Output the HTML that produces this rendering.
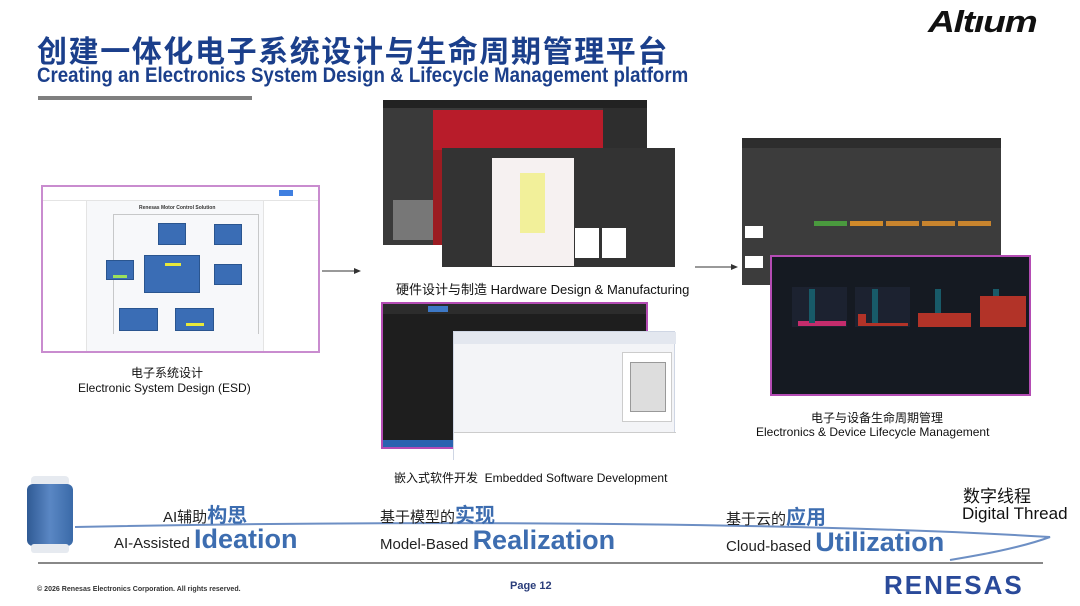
<!DOCTYPE html>
<html><head><meta charset="utf-8">
<style>
*{margin:0;padding:0;box-sizing:border-box}
body{width:1080px;height:606px;background:#fff;position:relative;overflow:hidden;font-family:"Liberation Sans","Noto Sans CJK SC",sans-serif}
.a{position:absolute}
.t{white-space:nowrap}
.blue{background:#3a6db5;border:1px solid #2a558f}
.dk{background:#2b2b2b}
</style></head><body>

<div class="a t" style="left:37px;top:27px;font-size:30px;font-weight:bold;color:#1b3f8b;letter-spacing:1.6px">创建一体化电子系统设计与生命周期管理平台</div>
<div class="a t" style="left:37px;top:64px;font-size:21px;font-weight:bold;color:#1b3f8b;transform:scaleX(0.89);transform-origin:left">Creating an Electronics System Design &amp; Lifecycle Management platform</div>
<div class="a" style="left:38px;top:96px;width:214px;height:4px;background:#7f7f7f"></div>
<div class="a t" style="left:928px;top:4px;font-size:31px;font-weight:bold;font-style:italic;color:#111;letter-spacing:-1px;transform:scaleX(1.2);transform-origin:left">Altıum</div>

<!-- ESD -->
<div class="a" style="left:41px;top:185px;width:279px;height:168px;border:2px solid #c98ccf;background:#f7f8fa">
  <div class="a" style="left:0;top:0;width:275px;height:14px;background:#fff;border-bottom:1px solid #e4e4e4"></div>
  <div class="a" style="left:236px;top:3px;width:14px;height:6px;background:#3f7fe0"></div>
  <div class="a" style="left:0;top:14px;width:44px;height:150px;background:#fff;border-right:1px solid #e4e4e4"></div>
  <div class="a" style="left:220px;top:14px;width:55px;height:150px;background:#fff;border-left:1px solid #e4e4e4"></div>
  <div class="a t" style="left:96px;top:18px;font-size:5px;font-weight:bold;color:#333">Renesas Motor Control Solution</div>
  <div class="a" style="left:70px;top:27px;width:146px;height:120px;border:1px solid #999;border-width:1px 1px 0 1px;opacity:.5"></div>
</div>
<div class="a blue" style="left:158px;top:223px;width:28px;height:22px"></div>
<div class="a blue" style="left:214px;top:224px;width:28px;height:21px"></div>
<div class="a blue" style="left:106px;top:260px;width:28px;height:20px"></div>
<div class="a blue" style="left:144px;top:255px;width:56px;height:38px"></div>
<div class="a" style="left:165px;top:263px;width:16px;height:3px;background:#e8e83a"></div>
<div class="a" style="left:113px;top:275px;width:14px;height:3px;background:#9be05a"></div>
<div class="a blue" style="left:214px;top:264px;width:28px;height:21px"></div>
<div class="a blue" style="left:119px;top:308px;width:39px;height:23px"></div>
<div class="a blue" style="left:175px;top:308px;width:39px;height:23px"></div>
<div class="a" style="left:186px;top:323px;width:18px;height:3px;background:#e8e83a"></div>
<div class="a t" style="left:131px;top:364px;font-size:12px;color:#111">电子系统设计</div>
<div class="a t" style="left:78px;top:381px;font-size:12px;color:#111">Electronic System Design (ESD)</div>

<svg class="a" style="left:0;top:0" width="1080" height="606">
<line x1="322" y1="271" x2="356" y2="271" stroke="#333" stroke-width="1"/>
<polygon points="361,271 354,268 354,274" fill="#333"/>
<line x1="695" y1="267" x2="733" y2="267" stroke="#333" stroke-width="1"/>
<polygon points="738,267 731,264 731,270" fill="#333"/>
<path d="M75,527 C400,520 800,522 1050,537 C1020,548 980,555 950,560" fill="none" stroke="#6d8fc4" stroke-width="2"/>
</svg>

<!-- hardware -->
<div class="a dk" style="left:383px;top:100px;width:264px;height:145px;background:#3a3a3a">
  <div class="a" style="left:50px;top:10px;width:170px;height:42px;background:#b81c2a"></div>
  <div class="a" style="left:0;top:0;width:264px;height:8px;background:#222"></div>
  <div class="a" style="left:220px;top:8px;width:44px;height:45px;background:#2e2e2e"></div>
  <div class="a" style="left:10px;top:100px;width:40px;height:40px;background:#777"></div>
</div>
<div class="a" style="left:433px;top:150px;width:10px;height:95px;background:#9b1c22"></div>
<div class="a dk" style="left:442px;top:148px;width:233px;height:119px;background:#333">
  <div class="a" style="left:50px;top:10px;width:82px;height:108px;background:#f6f1f1"></div>
  <div class="a" style="left:78px;top:25px;width:25px;height:60px;background:#f2f09a"></div>
  <div class="a" style="left:133px;top:80px;width:24px;height:30px;background:#fff"></div>
  <div class="a" style="left:160px;top:80px;width:24px;height:30px;background:#fff"></div>
</div>
<div class="a t" style="left:396px;top:279px;font-size:13px;color:#111">硬件设计与制造 Hardware Design &amp; Manufacturing</div>

<!-- embedded -->
<div class="a" style="left:381px;top:302px;width:267px;height:147px;border:2px solid #b44cb4;background:#1e1e1e">
  <div class="a" style="left:0;top:0;width:263px;height:10px;background:#2c2c2c"></div>
  <div class="a" style="left:45px;top:2px;width:20px;height:6px;background:#3d78c6"></div>
  <div class="a" style="left:0;top:136px;width:263px;height:7px;background:#2a63b0"></div>
</div>
<div class="a" style="left:453px;top:331px;width:222px;height:129px;background:#f3f4f7;border:1px solid #cfd6e4">
  <div class="a" style="left:0;top:0;width:222px;height:12px;background:#e3e7ef"></div>
  <div class="a" style="left:168px;top:20px;width:50px;height:70px;background:#fff;border:1px solid #ccc"></div>
  <div class="a" style="left:176px;top:30px;width:36px;height:50px;background:#ddd;border:1px solid #999"></div>
  <div class="a" style="left:0;top:100px;width:222px;height:29px;background:#fff;border-top:1px solid #ccc"></div>
</div>
<div class="a t" style="left:394px;top:469px;font-size:12px;color:#111">嵌入式软件开发&nbsp; Embedded Software Development</div>

<!-- lifecycle -->
<div class="a" style="left:742px;top:138px;width:259px;height:147px;background:#3c3c3c">
  <div class="a" style="left:0;top:0;width:259px;height:10px;background:#2d2d2d"></div>
  <div class="a" style="left:72px;top:83px;width:33px;height:5px;background:#4a9a3e"></div>
  <div class="a" style="left:108px;top:83px;width:33px;height:5px;background:#d08a2a"></div>
  <div class="a" style="left:144px;top:83px;width:33px;height:5px;background:#c8842e"></div>
  <div class="a" style="left:180px;top:83px;width:33px;height:5px;background:#c8842e"></div>
  <div class="a" style="left:216px;top:83px;width:33px;height:5px;background:#c8842e"></div>
  <div class="a" style="left:3px;top:88px;width:18px;height:12px;background:#fff"></div>
  <div class="a" style="left:3px;top:118px;width:18px;height:12px;background:#fff"></div>
</div>
<div class="a" style="left:770px;top:255px;width:261px;height:141px;border:2px solid #b44cb4;background:#151a22">
  <div class="a" style="left:20px;top:30px;width:55px;height:40px;background:#1c2230"></div>
  <div class="a" style="left:26px;top:64px;width:48px;height:5px;background:#c42c6c"></div>
  <div class="a" style="left:37px;top:32px;width:6px;height:34px;background:#185a68"></div>
  <div class="a" style="left:83px;top:30px;width:55px;height:40px;background:#1c2230"></div>
  <div class="a" style="left:86px;top:57px;width:8px;height:12px;background:#b23328"></div>
  <div class="a" style="left:94px;top:66px;width:42px;height:3px;background:#b23328"></div>
  <div class="a" style="left:100px;top:32px;width:6px;height:34px;background:#185a68"></div>
  <div class="a" style="left:146px;top:56px;width:53px;height:14px;background:#b23328"></div>
  <div class="a" style="left:163px;top:32px;width:6px;height:24px;background:#185a68"></div>
  <div class="a" style="left:208px;top:39px;width:46px;height:31px;background:#b23328"></div>
  <div class="a" style="left:221px;top:32px;width:6px;height:7px;background:#185a68"></div>
</div>
<div class="a t" style="left:811px;top:409px;font-size:12px;color:#111">电子与设备生命周期管理</div>
<div class="a t" style="left:756px;top:425px;font-size:12px;color:#111">Electronics &amp; Device Lifecycle Management</div>

<!-- spool -->
<div class="a" style="left:31px;top:476px;width:38px;height:10px;background:#e6eaf0;border-radius:4px"></div>
<div class="a" style="left:27px;top:484px;width:46px;height:62px;background:linear-gradient(90deg,#2f5a94,#5a87c4,#3a6aa8);border-radius:6px"></div>
<div class="a" style="left:31px;top:544px;width:38px;height:9px;background:#e6eaf0;border-radius:3px"></div>

<div class="a t" style="left:163px;top:499px;font-size:15px;color:#222">AI辅助<span style="font-size:20px;font-weight:bold;color:#3d6db0">构思</span></div>
<div class="a t" style="left:114px;top:524px;font-size:15px;color:#222">AI-Assisted <span style="font-size:27px;font-weight:bold;color:#3d6db0">Ideation</span></div>
<div class="a t" style="left:380px;top:499px;font-size:15px;color:#222">基于模型的<span style="font-size:20px;font-weight:bold;color:#3d6db0">实现</span></div>
<div class="a t" style="left:380px;top:525px;font-size:15px;color:#222">Model-Based <span style="font-size:27px;font-weight:bold;color:#3d6db0">Realization</span></div>
<div class="a t" style="left:726px;top:501px;font-size:15px;color:#222">基于云的<span style="font-size:20px;font-weight:bold;color:#3d6db0">应用</span></div>
<div class="a t" style="left:726px;top:527px;font-size:15px;color:#222">Cloud-based <span style="font-size:27px;font-weight:bold;color:#3d6db0">Utilization</span></div>
<div class="a t" style="left:963px;top:482px;font-size:17px;color:#111">数字线程</div>
<div class="a t" style="left:962px;top:504px;font-size:17px;color:#111">Digital Thread</div>

<div class="a" style="left:38px;top:562px;width:1005px;height:2px;background:#888"></div>
<div class="a t" style="left:37px;top:584px;font-size:7.5px;font-weight:bold;color:#333;transform:scaleX(0.94);transform-origin:left">© 2026 Renesas Electronics Corporation. All rights reserved.</div>
<div class="a t" style="left:510px;top:580px;font-size:11px;font-weight:bold;color:#2a3d7a">Page 12</div>
<div class="a t" style="left:884px;top:570px;font-size:26px;font-weight:bold;color:#2a4a9a;letter-spacing:2px">RENESAS</div>
</body></html>
